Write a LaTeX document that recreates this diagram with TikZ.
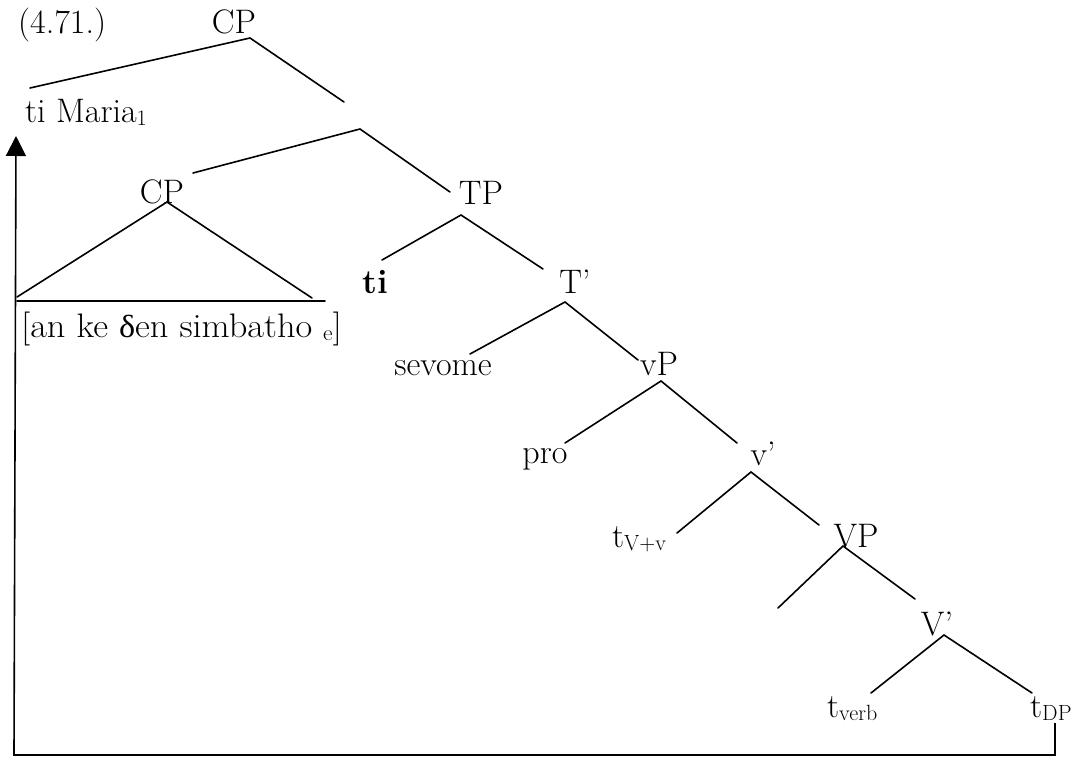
\documentclass[tikz,border=0pt]{standalone}
\usepackage{fontspec}
\newfontfamily\grk{Liberation Serif}
\usetikzlibrary{arrows.meta}
\newcommand{\sbx}[1]{\raisebox{-3pt}{\fontsize{22}{24}\selectfont #1}}
\begin{document}
\begin{tikzpicture}[x=1pt,y=-1pt,
  lbl/.style={inner sep=0pt,anchor=base,font=\fontsize{34}{40}\selectfont},
  lbll/.style={lbl,anchor=base west},
  br/.style={line width=1.6pt,line cap=round}]
\useasboundingbox (0,0) rectangle (1085,761);
% labels
\node[lbll] (ex) at (18,33) {(4.71.)};
\node[lbl] (cp1) at (234,33) {CP};
\node[lbll] (tm) at (25,122) {ti Maria\sbx{1}};
\node[lbl] (cp2) at (162,203) {CP};
\node[lbll] (emb) at (21,337) {\scalebox{1.07}[1]{[an ke {\grk\fontsize{32}{36}\selectfont δ}en simbatho \sbx{e}]}};
\node[lbl] (tp) at (481,204) {TP};
\node[lbl] (ti) at (375,293) {\bfseries ti};
\node[lbl] (tb) at (575,293) {T’};
\node[lbl] (sev) at (443,375) {sevome};
\node[lbl] (vp) at (659,375) {vP};
\node[lbl] (pro) at (545,463) {pro};
\node[lbl] (vb) at (763,465) {v’};
\node[lbll] (tvv) at (612,547) {t\sbx{V+v}};
\node[lbl] (VP) at (856,547) {VP};
\node[lbl] (Vb) at (937,635) {V’};
\node[lbll] (tverb) at (827,717) {t\sbx{verb}};
\node[lbll] (tdp) at (1030,717) {t\sbx{DP}};
% branch coordinates
\coordinate (a1) at (250,38);  \coordinate (a1l) at (30,88);   \coordinate (a1r) at (344,102);
\coordinate (a2) at (360,129); \coordinate (a2l) at (193,173); \coordinate (a2r) at (450,192);
\coordinate (a3) at (167,202); \coordinate (a3l) at (17,297);  \coordinate (a3r) at (312,298);
\coordinate (h1) at (17,301);  \coordinate (h2) at (325,301);
\coordinate (a4) at (461,215); \coordinate (a4l) at (382,260); \coordinate (a4r) at (543,269);
\coordinate (a5) at (565,302); \coordinate (a5l) at (470,354); \coordinate (a5r) at (638,360);
\coordinate (a6) at (661,381); \coordinate (a6l) at (565,443); \coordinate (a6r) at (737,443);
\coordinate (a7) at (751,472); \coordinate (a7l) at (677,533); \coordinate (a7r) at (819,525);
\coordinate (a8) at (843,546); \coordinate (a8l) at (778,608); \coordinate (a8r) at (915,599);
\coordinate (a9) at (944,635); \coordinate (a9l) at (871,693); \coordinate (a9r) at (1032,693);
\draw[br] (a1l) -- (a1) -- (a1r);
\draw[br] (a2l) -- (a2) -- (a2r);
\draw[br] (a3l) -- (a3) -- (a3r);
\draw[br] (h1) -- (h2);
\draw[br] (a4l) -- (a4) -- (a4r);
\draw[br] (a5l) -- (a5) -- (a5r);
\draw[br] (a6l) -- (a6) -- (a6r);
\draw[br] (a7l) -- (a7) -- (a7r);
\draw[br] (a8l) -- (a8) -- (a8r);
\draw[br] (a9l) -- (a9) -- (a9r);
% movement path
\coordinate (m1) at (1055,723);
\coordinate (m2) at (1055,755);
\coordinate (m3) at (14,755);
\coordinate (m4) at (16,136);
\draw[line width=1.6pt,-{Triangle[length=20pt,width=20pt]}] (m1) -- (m2) -- (m3) -- (m4);
\end{tikzpicture}
\end{document}
